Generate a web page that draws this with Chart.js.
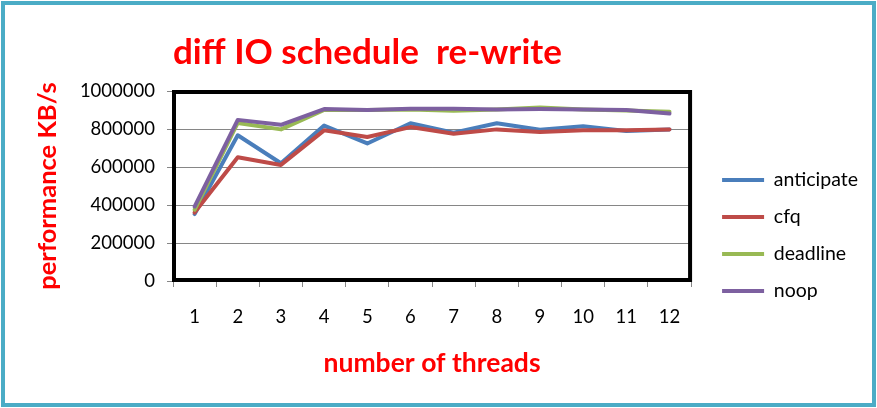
<!DOCTYPE html>
<html>
<head>
<meta charset="utf-8">
<script src="https://cdn.jsdelivr.net/npm/chart.js@4"></script>
<style>
  html, body { margin: 0; padding: 0; background: #fff; }
  canvas { display: block; }
</style>
</head>
<body>
<canvas id="chart" width="877" height="408"></canvas>
<script>
// data
const threads = ['1', '2', '3', '4', '5', '6', '7', '8', '9', '10', '11', '12'];
const anticipate = [352000, 767000, 620000, 818000, 724000, 830000, 781000, 830000, 796000, 815000, 789000, 798000];
const cfq = [360000, 651000, 611000, 793000, 758000, 810000, 775000, 798000, 784000, 793000, 793000, 798000];
const deadline = [375000, 832000, 798000, 900000, 900000, 902000, 896000, 902000, 913000, 903000, 897000, 891000];
const noop = [392000, 848000, 822000, 905000, 900000, 907000, 907000, 902000, 905000, 903000, 900000, 881000];
const yTicks = [0, 200000, 400000, 600000, 800000, 1000000];

Chart.defaults.font.family = 'Lato, "Open Sans", sans-serif';
Chart.defaults.color = '#000';

function series(label, values, color, order) {
    return {
        label: label,
        data: values,
        borderColor: color,
        backgroundColor: color,
        borderWidth: 4,
        pointRadius: 0,
        tension: 0,
        borderJoinStyle: 'round',
        borderCapStyle: 'round',
        order: order
    };
}

// black frame round the plot + blue frame round the whole picture
const framePlugin = {
    id: 'frames',
    afterDatasetsDraw(chart) {
        const ctx = chart.ctx;
        const a = chart.chartArea;
        ctx.save();
        ctx.strokeStyle = '#000';
        ctx.lineWidth = 4;
        ctx.strokeRect(a.left + 1, a.top + 1, a.right - a.left - 2, a.bottom - a.top - 2);
        ctx.restore();
    },
    afterDraw(chart) {
        const ctx = chart.ctx;
        ctx.save();
        ctx.strokeStyle = '#4bacc6';
        ctx.lineWidth = 4;
        ctx.strokeRect(3, 3, chart.width - 6, chart.height - 6);
        ctx.restore();
    }
};

const ctx = document.getElementById('chart').getContext('2d');
new Chart(ctx, {
    type: 'line',
    data: {
        labels: threads,
        datasets: [
            series('anticipate', anticipate, '#4a7ebb', 3),
            series('cfq', cfq, '#be4b48', 2),
            series('deadline', deadline, '#98b954', 1),
            series('noop', noop, '#7d60a0', 0)
        ]
    },
    options: {
        responsive: false,
        animation: false,
        layout: { padding: { top: 10, left: 10, right: 9, bottom: 10 } },
        plugins: {
            title: {
                display: true,
                text: 'diff IO schedule  re-write',
                color: '#ff0000',
                font: { size: 35, weight: 'bold' },
                align: 'start',
                fullSize: false,
                padding: { top: 21.3, bottom: 17.7 }
            },
            legend: {
                position: 'right',
                reverse: true,
                maxWidth: 300,
                title: { display: true, text: '', font: { size: 10 }, padding: { top: 51, bottom: 0 } },
                labels: {
                    usePointStyle: true,
                    pointStyle: 'line',
                    pointStyleWidth: 42,
                    padding: 17.5,
                    font: { size: 19.5 },
                    color: '#000'
                }
            },
            tooltip: { enabled: false }
        },
        scales: {
            x: {
                offset: true,
                grid: { offset: true, drawOnChartArea: false, color: '#868686', tickLength: 6 },
                border: { display: false },
                ticks: { padding: 19, font: { size: 18.5 } },
                title: {
                    display: true,
                    text: 'number of threads',
                    color: '#ff0000',
                    font: { size: 26.5, weight: 'bold' },
                    padding: { top: 0, bottom: 19 }
                }
            },
            y: {
                min: yTicks[0],
                max: yTicks[yTicks.length - 1],
                grid: { color: '#868686', tickLength: 6 },
                border: { display: false },
                ticks: {
                    stepSize: yTicks[1] - yTicks[0],
                    padding: 12,
                    font: { size: 18.5 },
                    callback: v => String(v)
                },
                title: {
                    display: true,
                    text: 'performance KB/s',
                    color: '#ff0000',
                    font: { size: 25.5, weight: 'bold' },
                    padding: { top: 22.7, bottom: 0 }
                },
                afterFit: scale => { scale.width = 163; }
            },
            gap: {
                // empty spacer between the plot and the legend
                position: 'right',
                display: true,
                grid: { display: false },
                border: { display: false },
                ticks: { display: false },
                afterFit: scale => { scale.width = 13.5; }
            }
        }
    },
    plugins: [framePlugin]
});
</script>
</body>
</html>
